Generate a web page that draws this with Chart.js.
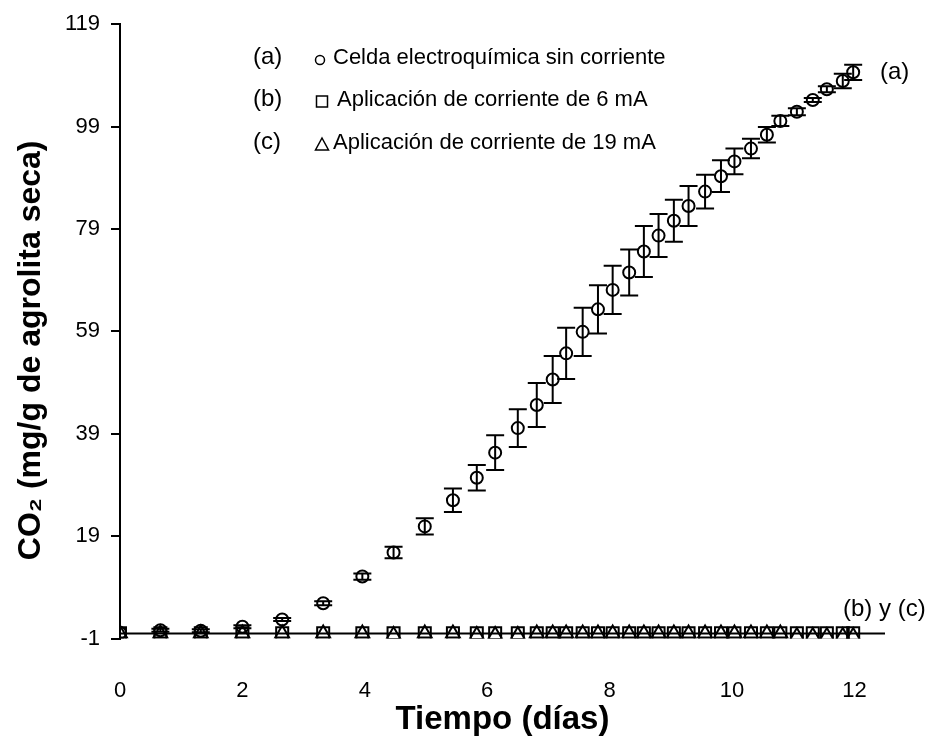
<!DOCTYPE html>
<html>
<head>
<meta charset="utf-8">
<script src="https://cdn.jsdelivr.net/npm/chart.js@4.4.1/dist/chart.umd.min.js"></script>
<style>
  html, body { margin: 0; padding: 0; background: #ffffff; }
  #wrap { width: 936px; height: 742px; position: relative; }
</style>
</head>
<body>
<div id="wrap"><canvas id="chart" width="936" height="742"></canvas></div>
<script>
// Sampling times (days)
const days = [0, 0.66, 1.32, 2.0, 2.65, 3.32, 3.96, 4.47, 4.98, 5.44, 5.83, 6.13, 6.50, 6.81, 7.07,
  7.29, 7.56, 7.81, 8.05, 8.32, 8.56, 8.80, 9.05, 9.29, 9.56, 9.82, 10.04, 10.31, 10.57, 10.79,
  11.06, 11.32, 11.55, 11.81, 11.98];

// (a) cell without current: mean CO2 and standard deviation (mg/g dry agrolite)
const co2NoCurrent = [0.1, 0.6, 0.5, 1.3, 2.7, 5.9, 11.1, 15.8, 20.9, 26.0, 30.4, 35.3, 40.1, 44.6, 49.6,
  54.7, 58.9, 63.3, 67.1, 70.5, 74.6, 77.7, 80.6, 83.5, 86.3, 89.3, 92.2, 94.7, 97.4, 100.1,
  101.9, 104.2, 106.3, 107.9, 109.6];
const sdNoCurrent = [0, 0.3, 0.3, 0.3, 0.3, 0.4, 0.6, 1.1, 1.6, 2.3, 2.5, 3.4, 3.7, 4.3, 4.6,
  5.0, 4.7, 4.7, 4.7, 4.5, 5.0, 4.2, 4.1, 3.9, 3.3, 3.1, 2.5, 1.9, 1.5, 1.0,
  0.7, 0.4, 0.6, 1.4, 1.5];

// (b) 6 mA and (c) 19 mA
const co2At6mA = [0, 0, 0, 0, 0, 0, 0, 0, 0, 0, 0, 0, 0, 0, 0,
  0, 0, 0, 0, 0, 0, 0, 0, 0, 0, 0, 0, 0, 0, 0,
  0, 0, 0, 0, 0];
const co2At19mA = [0, 0, 0, 0, 0, 0, 0, -0.3, 0, 0, -0.3, -0.3, -0.3, 0, 0,
  0, 0, 0, 0, 0, 0, 0, 0, 0, 0, 0, 0, 0, 0, 0,
  -0.5, -0.5, -0.5, -0.5, -0.5];

const seriesTags = ['(a)', '(b)', '(c)'];
const seriesNames = ['Celda electroquímica sin corriente', 'Aplicación de corriente de 6 mA', 'Aplicación de corriente de 19 mA'];
const yTitle = 'CO₂ (mg/g de agrolita seca)';
const xTitle = 'Tiempo (días)';

const xTicks = [0, 2, 4, 6, 8, 10, 12];
const yTicks = [-1, 19, 39, 59, 79, 99, 119];

const FONT = '"Liberation Sans", Arial, Helvetica, sans-serif';

const toPoints = (vals) => days.map((d, i) => ({ x: d, y: vals[i] }));

// Horizontal baseline at zero plus vertical error bars for series (a)
const baselineAndErrors = {
  id: 'baselineAndErrors',
  beforeDatasetsDraw(chart) {
    const { ctx, scales: { x, y } } = chart;
    ctx.save();
    ctx.strokeStyle = '#000';
    ctx.lineWidth = 2;
    ctx.beginPath();
    ctx.moveTo(x.getPixelForValue(0), y.getPixelForValue(0));
    ctx.lineTo(x.getPixelForValue(12.5), y.getPixelForValue(0));
    ctx.stroke();
    ctx.restore();
  },
  afterDatasetsDraw(chart) {
    const { ctx, scales: { x, y } } = chart;
    ctx.save();
    ctx.strokeStyle = '#000';
    ctx.lineWidth = 2;
    const cap = 9;
    days.forEach((d, i) => {
      const sd = sdNoCurrent[i];
      if (!sd) return;
      const px = x.getPixelForValue(d);
      const top = y.getPixelForValue(co2NoCurrent[i] + sd);
      const bot = y.getPixelForValue(co2NoCurrent[i] - sd);
      ctx.beginPath();
      ctx.moveTo(px, top); ctx.lineTo(px, bot);
      ctx.moveTo(px - cap, top); ctx.lineTo(px + cap, top);
      ctx.moveTo(px - cap, bot); ctx.lineTo(px + cap, bot);
      ctx.stroke();
    });
    ctx.restore();
  }
};

// Legend block, curve tags and the vertical axis title
const legendAndTags = {
  id: 'legendAndTags',
  afterDraw(chart) {
    const { ctx, chartArea } = chart;
    ctx.save();
    ctx.fillStyle = '#000';
    ctx.strokeStyle = '#000';
    ctx.textBaseline = 'middle';
    ctx.textAlign = 'left';
    const rowsY = [58, 100, 143];
    const shapeX = [320, 322, 322];
    const textX = [333, 337, 333];
    rowsY.forEach((ry, i) => {
      ctx.font = '24px ' + FONT;
      ctx.fillText(seriesTags[i], 253, ry - 1);
      ctx.lineWidth = 1.5;
      ctx.beginPath();
      if (i === 0) {
        ctx.arc(shapeX[i], ry + 2, 4.5, 0, Math.PI * 2);
      } else if (i === 1) {
        ctx.rect(shapeX[i] - 5.5, ry - 4, 11, 11);
      } else {
        ctx.moveTo(shapeX[i], ry - 5);
        ctx.lineTo(shapeX[i] + 6.5, ry + 7);
        ctx.lineTo(shapeX[i] - 6.5, ry + 7);
        ctx.closePath();
      }
      ctx.stroke();
      ctx.font = '22px ' + FONT;
      ctx.fillText(seriesNames[i], textX[i], ry);
    });
    ctx.font = '24px ' + FONT;
    ctx.fillText('(a)', 880, 72);
    ctx.fillText('(b) y (c)', 843, 609);

    // vertical axis title
    ctx.font = 'bold 32px ' + FONT;
    ctx.textAlign = 'center';
    ctx.translate(31, chartArea.top + (chartArea.bottom - chartArea.top) / 2 + 19);
    ctx.rotate(-Math.PI / 2);
    ctx.fillText(yTitle, 0, 0);
    ctx.restore();
  }
};

const chart = new Chart(document.getElementById('chart'), {
  type: 'scatter',
  data: {
    datasets: [
      {
        label: seriesNames[0],
        data: toPoints(co2NoCurrent),
        pointStyle: 'circle',
        pointRadius: 6,
        borderWidth: 2,
        borderColor: '#000',
        backgroundColor: 'rgba(0,0,0,0)'
      },
      {
        label: seriesNames[1],
        data: toPoints(co2At6mA),
        pointStyle: 'rect',
        pointRadius: 8.5,
        borderWidth: 2,
        borderColor: '#000',
        backgroundColor: 'rgba(0,0,0,0)'
      },
      {
        label: seriesNames[2],
        data: toPoints(co2At19mA),
        pointStyle: 'triangle',
        pointRadius: 8,
        borderWidth: 2,
        borderColor: '#000',
        backgroundColor: 'rgba(0,0,0,0)'
      }
    ]
  },
  options: {
    responsive: false,
    animation: false,
    events: [],
    layout: { padding: { top: 20, right: 51, left: 0, bottom: 0 } },
    plugins: {
      legend: { display: false },
      tooltip: { enabled: false }
    },
    scales: {
      x: {
        type: 'linear',
        min: 0,
        max: 12.5,
        afterBuildTicks: (s) => { s.ticks = xTicks.map(v => ({ value: v })); },
        afterFit: (s) => { s.height = 103.5; },
        grid: { display: false, drawTicks: false },
        border: { display: false },
        ticks: {
          padding: 39,
          color: '#000',
          font: { family: FONT, size: 22 },
          maxRotation: 0,
          callback: (v) => String(v)
        },
        title: {
          display: true,
          text: xTitle,
          color: '#000',
          font: { family: FONT, size: 33, weight: 'bold' },
          padding: { top: 0, bottom: 2 }
        }
      },
      y: {
        type: 'linear',
        min: -1,
        max: 119,
        afterBuildTicks: (s) => { s.ticks = yTicks.map(v => ({ value: v })); },
        afterFit: (s) => { s.width = 120; },
        grid: {
          display: true,
          drawOnChartArea: false,
          drawTicks: true,
          tickLength: 9,
          color: '#000',
          lineWidth: 2
        },
        border: { display: true, color: '#000', width: 2 },
        ticks: {
          padding: 11,
          color: '#000',
          font: { family: FONT, size: 22 },
          callback: (v) => String(v)
        },
        title: { display: false }
      }
    }
  },
  plugins: [baselineAndErrors, legendAndTags]
});
</script>
</body>
</html>
